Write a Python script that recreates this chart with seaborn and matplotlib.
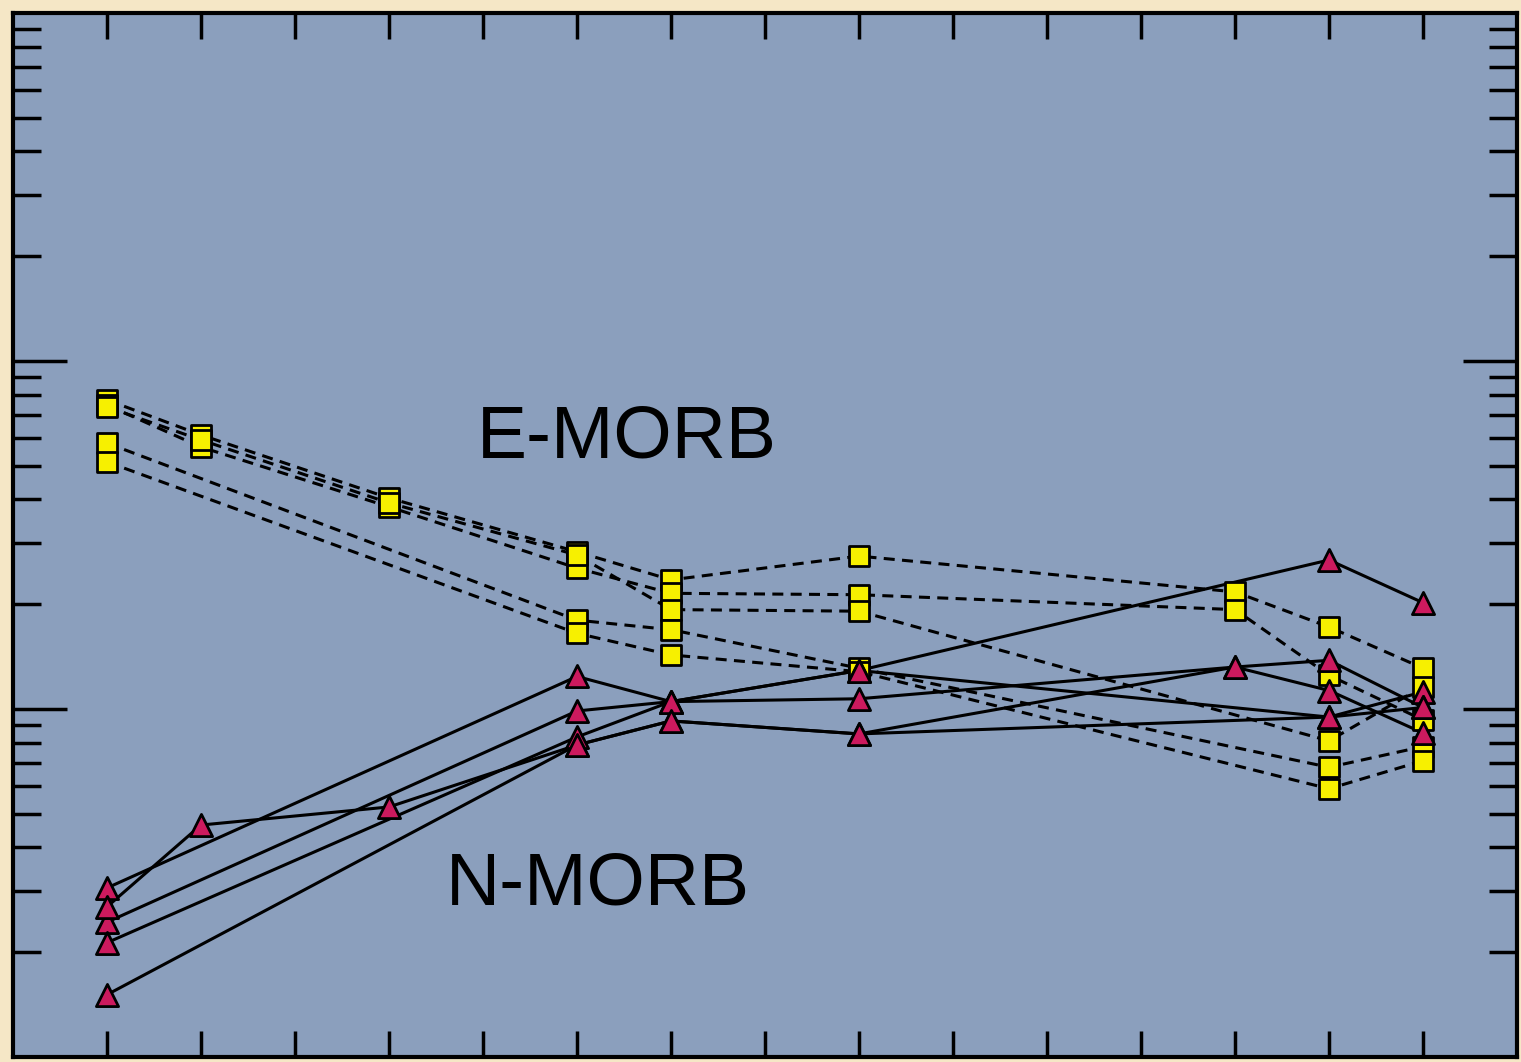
import numpy as np
import pandas as pd
import matplotlib
matplotlib.use("Agg")
import matplotlib.pyplot as plt
from matplotlib.ticker import LogLocator, NullFormatter, FixedLocator
import seaborn as sns

# ---- data -------------------------------------------------------------
REE = ["La", "Ce", "Pr", "Nd", "Pm", "Sm", "Eu", "Gd", "Tb", "Dy", "Ho", "Er", "Tm", "Yb", "Lu"]
elements = ["La", "Ce", "Nd", "Sm", "Eu", "Tb", "Tm", "Yb", "Lu"]

# E-MORB samples (None = not measured)
E1 = [77.3, 61.3, 40.4, 28.3, 23.5, 27.5, 21.7, 17.2, 13.1]
E2 = [74.7, 56.6, 38.1, 25.4, 21.5, 21.3, 19.3, 12.5, 9.3]
E3 = [73.8, 59.3, 39.1, 27.7, 19.3, 19.1, None, 8.1, 11.6]
E4 = [58.1, None, None, 18.0, 16.9, 13.1, None, 6.8, 7.8]
E5 = [51.3, None, None, 16.5, 14.3, 12.8, None, 5.9, 7.1]

# N-MORB samples
N1 = [3.06, None, None, 12.4, 10.5, 12.9, None, 26.8, 20.2]
N2 = [2.44, None, None, 9.87, 10.5, 10.7, 13.2, 11.3, 8.53]
N3 = [2.70, 4.64, 5.23, 7.88, 9.24, 8.48, None, 9.48, 11.2]
N4 = [2.13, None, None, 8.31, 10.5, 12.9, None, 9.48, 10.1]
N5 = [1.51, None, None, 7.88, 9.24, 8.48, 13.2, 13.8, 10.1]

e_samples = {"E1": E1, "E2": E2, "E3": E3, "E4": E4, "E5": E5}
n_samples = {"N1": N1, "N2": N2, "N3": N3, "N4": N4, "N5": N5}

def to_long(samples, kind):
    rows = []
    for name, vals in samples.items():
        for el, v in zip(elements, vals):
            if v is not None:
                rows.append({"sample": name, "type": kind, "element": el,
                             "pos": REE.index(el), "value": v})
    return pd.DataFrame(rows)

dfE = to_long(e_samples, "E-MORB")
dfN = to_long(n_samples, "N-MORB")

# ---- figure -----------------------------------------------------------
sns.set_style("ticks")
plt.rcParams["font.family"] = ["Liberation Sans", "DejaVu Sans"]

fig = plt.figure(figsize=(15.21, 10.62), dpi=100, facecolor="#f5e7c6")
ax = fig.add_axes([0.0085, 0.0047, 0.9889, 0.9831])
ax.set_facecolor("#8b9fbd")
ax.set_yscale("log")

sns.lineplot(data=dfE, x="pos", y="value", units="sample", estimator=None,
             sort=False, color="black", lw=2.2, linestyle=(0, (3.6, 2.4)),
             ax=ax, legend=False, zorder=2)
sns.lineplot(data=dfN, x="pos", y="value", units="sample", estimator=None,
             sort=False, color="black", lw=2.2, linestyle="-",
             ax=ax, legend=False, zorder=2)
sns.scatterplot(data=dfE, x="pos", y="value", marker="s", s=215,
                color="#f7f000", edgecolor="black", linewidth=2.0,
                ax=ax, legend=False, zorder=3)
sns.scatterplot(data=dfN, x="pos", y="value", marker="^", s=255,
                color="#cc1a5e", edgecolor="black", linewidth=2.0,
                ax=ax, legend=False, zorder=4)

ax.set_xlim(-1, 15)
ax.set_ylim(1, 1000)
ax.set_xlabel("")
ax.set_ylabel("")

ax.xaxis.set_major_locator(FixedLocator(range(len(REE))))
ax.xaxis.set_minor_locator(FixedLocator([]))
ax.yaxis.set_major_locator(FixedLocator([10, 100]))
ax.yaxis.set_minor_locator(LogLocator(base=10, subs=np.arange(2, 10)))
ax.yaxis.set_minor_formatter(NullFormatter())

ax.tick_params(axis="x", which="major", direction="in", top=True, bottom=True,
               length=19, width=2.5, color="black",
               labelbottom=False, labeltop=False)
ax.tick_params(axis="y", which="major", direction="in", left=True, right=True,
               length=39, width=2.5, color="black",
               labelleft=False, labelright=False)
ax.tick_params(axis="y", which="minor", direction="in", left=True, right=True,
               length=20, width=2.5, color="black")

for sp in ax.spines.values():
    sp.set_visible(True)
    sp.set_linewidth(3)
    sp.set_color("black")

ax.text(0.4085, 0.5925, "E-MORB", transform=ax.transAxes, fontsize=54,
        ha="center", va="center", color="black")
ax.text(0.389, 0.1645, "N-MORB", transform=ax.transAxes, fontsize=54,
        ha="center", va="center", color="black")

fig.savefig("out.png", dpi=100, facecolor=fig.get_facecolor())
